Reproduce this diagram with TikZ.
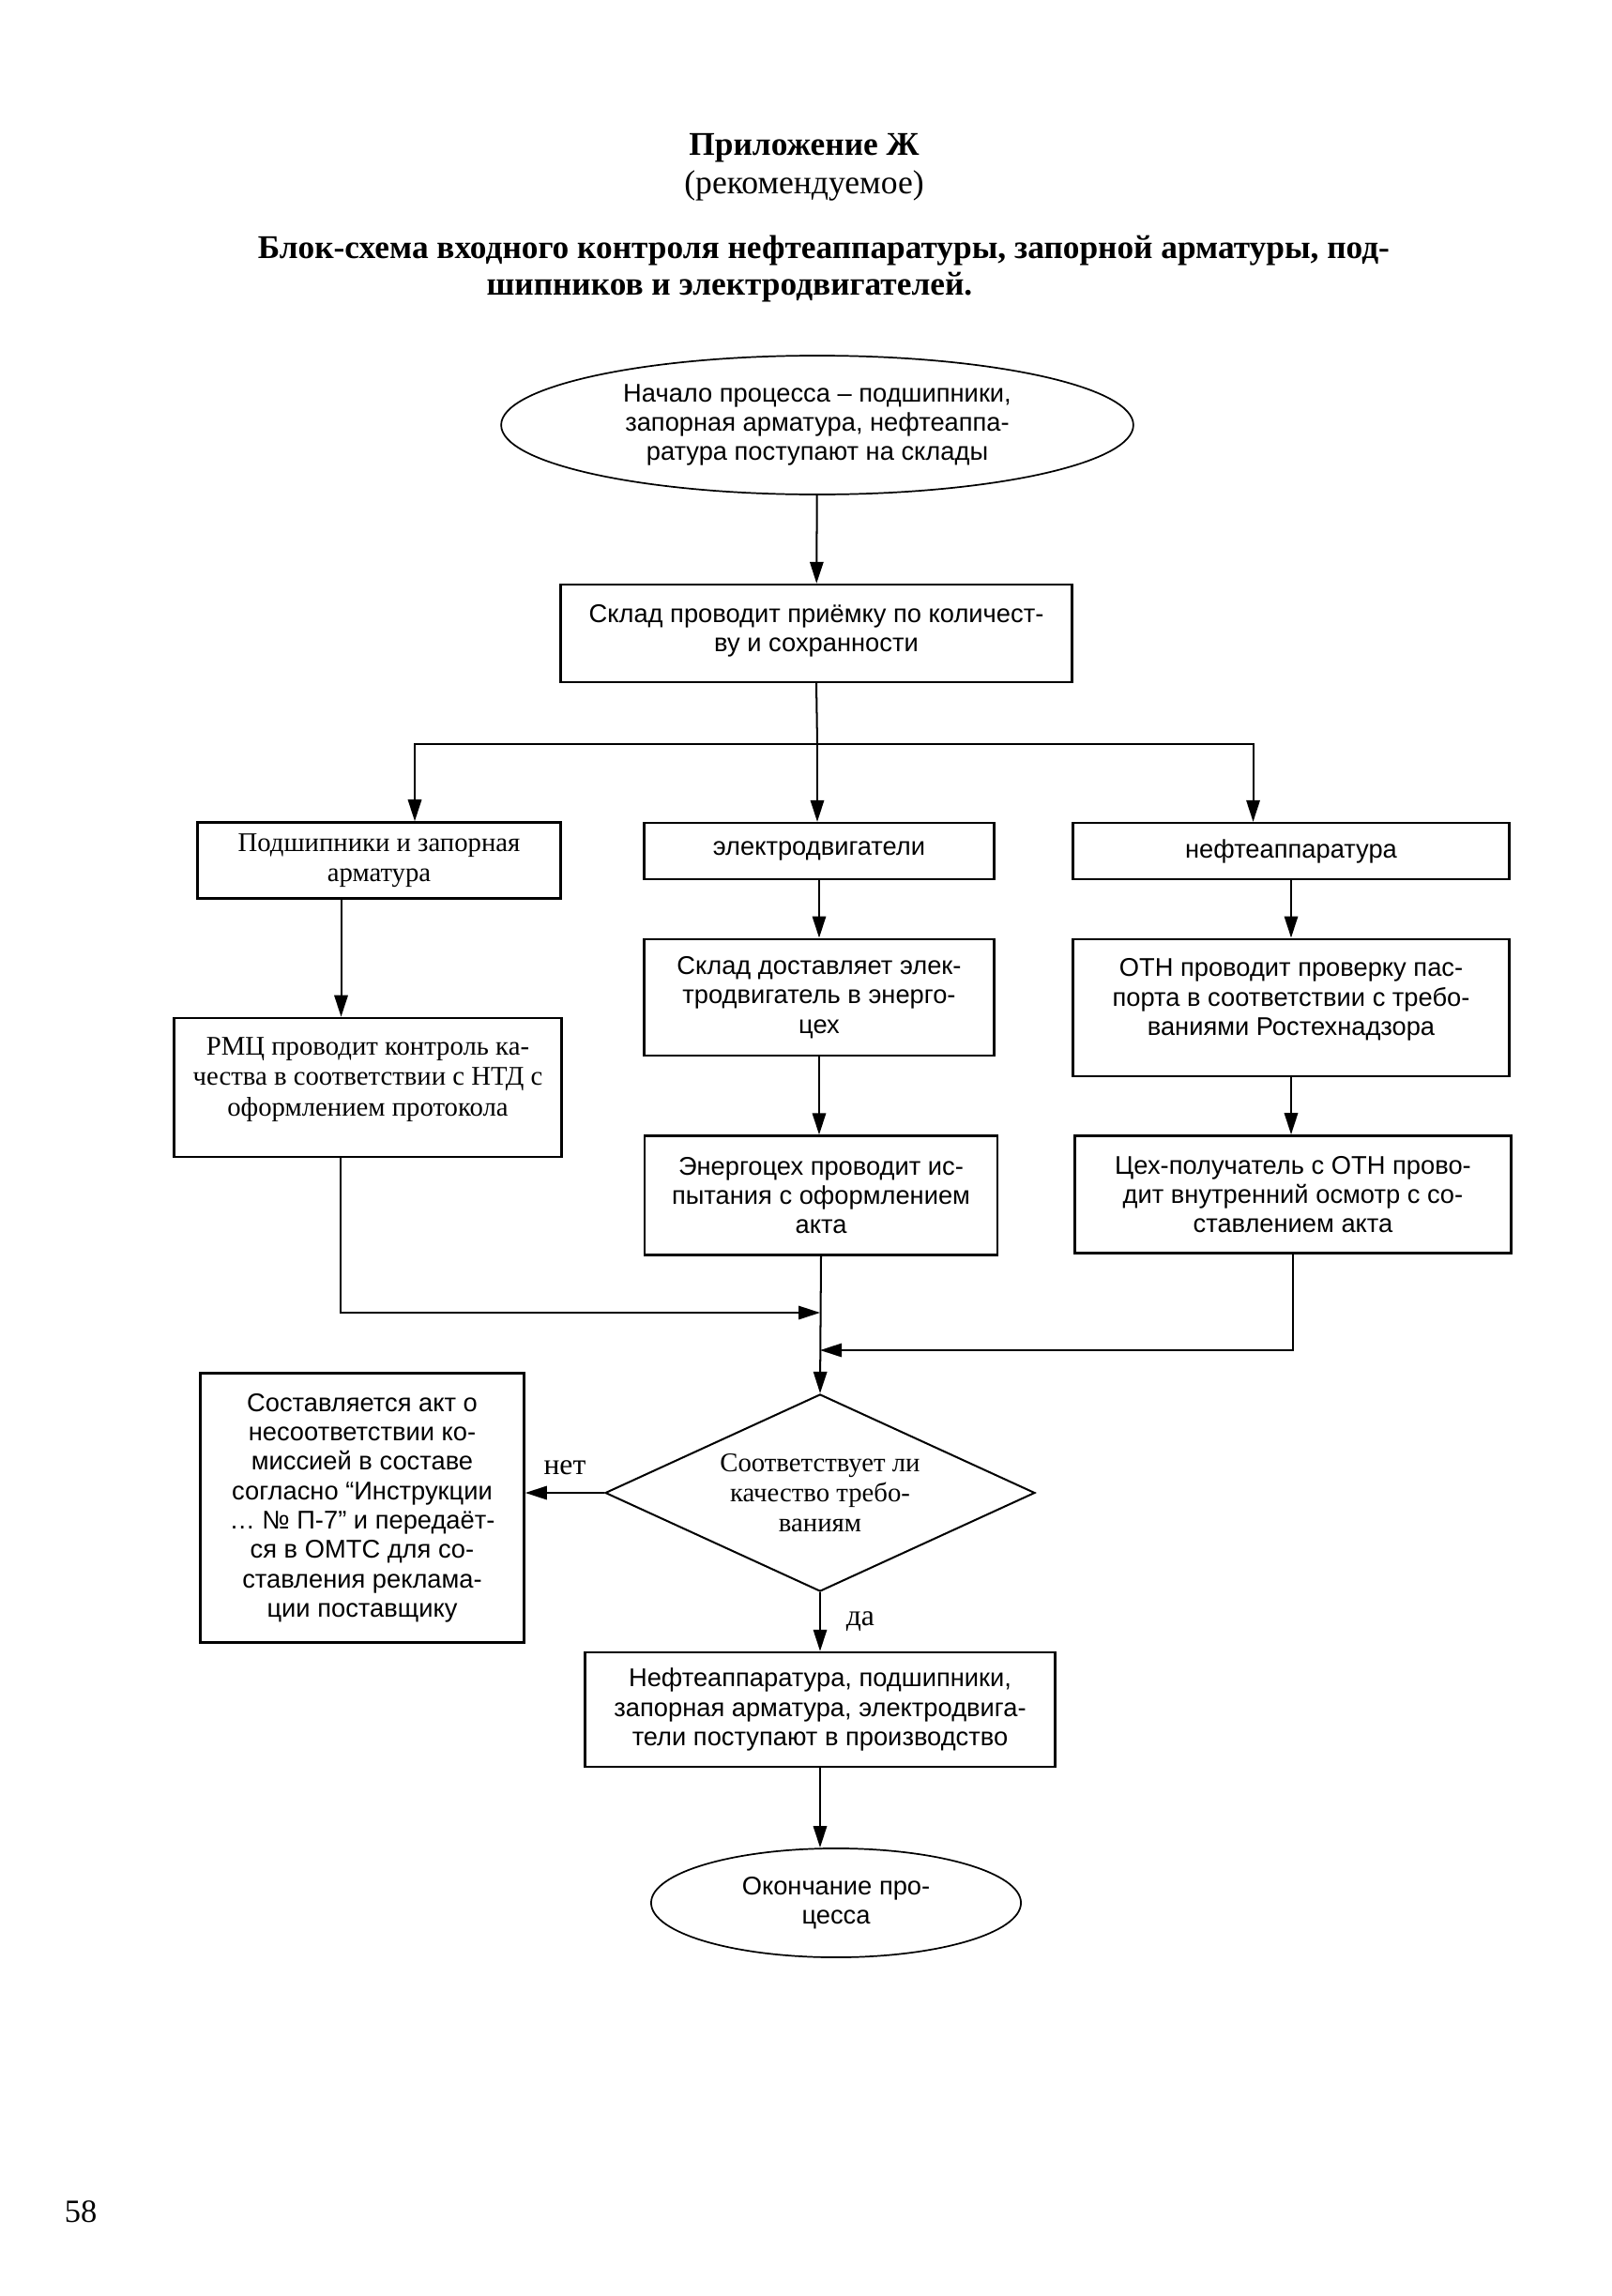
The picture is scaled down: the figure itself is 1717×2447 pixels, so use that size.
\documentclass[tikz,border=0pt]{standalone}
\usepackage{fontspec}
\setmainfont{Liberation Serif}
\newfontfamily\sansru{Liberation Sans}
\usetikzlibrary{shapes.geometric,arrows.meta}

\begin{document}
\begin{tikzpicture}[x=0.1223mm,y=-0.1223mm,
    every node/.style={font=\fontsize{10}{11.5}\selectfont},
    sbox/.style={draw,line width=0.9pt,align=center,inner sep=1pt,
      font=\sansru\fontsize{9.5}{10.9}\selectfont},
    rbox/.style={draw,line width=0.9pt,align=center,inner sep=1pt,
      font=\fontsize{10}{11.2}\selectfont},
    term/.style={ellipse,draw,line width=0.6pt,align=center,inner sep=0pt,
      font=\sansru\fontsize{9.5}{10.9}\selectfont},
    dia/.style={diamond,draw,line width=0.7pt,align=center,inner sep=0pt,
      aspect=2.18,font=\fontsize{10}{11.2}\selectfont},
    head/.style={inner sep=0pt,font=\fontsize{12.4}{14}\selectfont},
    lin/.style={line width=0.7pt},
    arr/.style={line width=0.7pt,-{Triangle[length=8pt,width=5pt]}}]

    \useasboundingbox (0,0) rectangle (1717,2447);

    % Heading
    \node[head,font=\bfseries\fontsize{12.3}{14}\selectfont] (appx) at (857,158) {Приложение Ж};
    \node[head] (recm) at (857,198) {(рекомендуемое)};
    \node[head,font=\bfseries\fontsize{12.3}{14}\selectfont] (capA) at (878,267)
      {Блок-схема входного контроля нефтеаппаратуры, запорной арматуры, под-};
    \node[head,font=\bfseries\fontsize{12.3}{14}\selectfont,anchor=west] (capB) at (518,306)
      {шипников и электродвигателей.};

    % Start and acceptance at the store
    \node[term,minimum width=82.4mm,minimum height=18.1mm] (start) at (871,453)
      {Начало процесса – подшипники,\\запорная арматура, нефтеаппа-\\ратура поступают на склады};
    \node[sbox,minimum width=66.7mm,minimum height=12.7mm,text depth=4pt] (recv) at (870,675)
      {Склад проводит приёмку по количест-\\ву и сохранности};

    % Three kinds of goods
    \node[rbox,minimum width=47.3mm,minimum height=9.9mm] (bear) at (404,917)
      {Подшипники и запорная\\арматура};
    \node[sbox,minimum width=45.6mm,minimum height=7.3mm] (motor) at (873,907)
      {электродвигатели};
    \node[sbox,minimum width=56.9mm,minimum height=7.3mm] (oil) at (1376,907)
      {нефтеаппаратура};

    % Checks in each branch
    \node[rbox,minimum width=50.5mm,minimum height=18.1mm,text depth=8pt] (rmc) at (392,1159)
      {РМЦ проводит контроль ка-\\чества в соответствии с НТД с\\оформлением протокола};
    \node[sbox,minimum width=45.6mm,minimum height=15.2mm] (deliv) at (873,1063)
      {Склад доставляет элек-\\тродвигатель в энерго-\\цех};
    \node[sbox,minimum width=46.0mm,minimum height=15.5mm] (test) at (875,1274)
      {Энергоцех проводит ис-\\пытания с оформлением\\акта};
    \node[sbox,minimum width=56.9mm,minimum height=17.9mm,text depth=8pt] (passp) at (1376,1074)
      {ОТН проводит проверку пас-\\порта в соответствии с требо-\\ваниями Ростехнадзора};
    \node[sbox,minimum width=56.9mm,minimum height=15.3mm] (insp) at (1378,1273)
      {Цех-получатель с ОТН прово-\\дит внутренний осмотр с со-\\ставлением акта};

    % Decision
    \node[dia,minimum width=56mm,minimum height=25.7mm] (check) at (874,1591)
      {Соответствует ли\\качество требо-\\ваниям};
    \node[sbox,minimum width=42.2mm,minimum height=35.1mm] (reject) at (386,1607)
      {Составляется акт о\\несоответствии ко-\\миссией в составе\\согласно “Инструкции\\… № П-7” и передаёт-\\ся в ОМТС для со-\\ставления реклама-\\ции поставщику};
    \node[sbox,minimum width=61.2mm,minimum height=14.9mm] (prod) at (874,1822)
      {Нефтеаппаратура, подшипники,\\запорная арматура, электродвига-\\тели поступают в производство};
    \node[term,minimum width=48.2mm,minimum height=14.2mm] (finish) at (891,2028)
      {Окончание про-\\цесса};

    % Page number
    \node[font=\fontsize{12}{14}\selectfont] (pgno) at (86,2357) {58};

    % Connectors
    \coordinate (fork) at (871,793);
    \coordinate (joinL) at (874,1399);
    \coordinate (joinR) at (874,1439);
    \draw[arr] (start) -- (recv);
    \draw[lin] (recv.south) -- (fork);
    \draw[arr] (fork) -| ([xshift=4.65mm]bear.north);
    \draw[arr] (fork) -- (fork |- motor.north);
    \draw[arr] (fork) -| ([xshift=-4.95mm]oil.north);
    \draw[arr] ([xshift=-4.95mm]bear.south) -- ([xshift=-4.95mm]bear.south |- rmc.north);
    \draw[arr] (motor) -- (deliv);
    \draw[arr] (deliv.south) -- (deliv.south |- test.north);
    \draw[arr] (oil) -- (passp);
    \draw[arr] (passp.south) -- (passp.south |- insp.north);
    \draw[arr] (test.south) -- (check.north);
    \draw[arr] ([xshift=-3.5mm]rmc.south) |- (joinL);
    \draw[arr] (insp.south) |- (joinR);
    \draw[arr] (check.west) -- (check.west -| reject.east)
      node[midway,above=3pt,font=\fontsize{11}{13}\selectfont] {нет};
    \draw[arr] (check.south) -- (prod.north)
      node[midway,right=6pt,font=\fontsize{11}{13}\selectfont] {да};
    \draw[arr] (prod.south) -- (prod.south |- finish.north);

\end{tikzpicture}
\end{document}
